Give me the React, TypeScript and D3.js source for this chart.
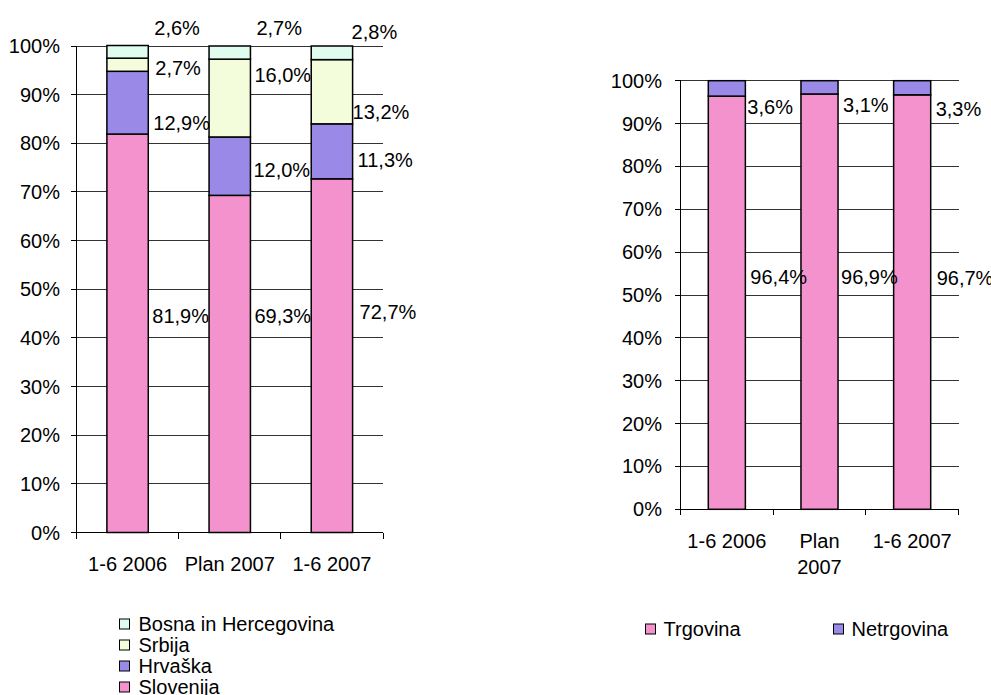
import React from "react";
import * as d3 from "d3";

// ---------- DATA ----------
const categories = ["1-6 2006", "Plan 2007", "1-6 2007"];
const leftSeries = ["Slovenija", "Hrvaška", "Srbija", "Bosna in Hercegovina"];
const slovenija = [81.9, 69.3, 72.7];
const hrvaska = [12.9, 12.0, 11.3];
const srbija = [2.7, 16.0, 13.2];
const bosna = [2.6, 2.7, 2.8];
const slovenijaLabels = ["81,9%", "69,3%", "72,7%"];
const hrvaskaLabels = ["12,9%", "12,0%", "11,3%"];
const srbijaLabels = ["2,7%", "16,0%", "13,2%"];
const bosnaLabels = ["2,6%", "2,7%", "2,8%"];

const rightSeries = ["Trgovina", "Netrgovina"];
const trgovina = [96.4, 96.9, 96.7];
const netrgovina = [3.6, 3.1, 3.3];
const trgovinaLabels = ["96,4%", "96,9%", "96,7%"];
const netrgovinaLabels = ["3,6%", "3,1%", "3,3%"];

const yTicks = [0, 10, 20, 30, 40, 50, 60, 70, 80, 90, 100];
const tickLabels = yTicks.map((t) => `${t}%`);

// ---------- LAYOUT (label anchors in value-space, offsets in px) ----------
const leftLabelAt = [
  [44.4, 44.4, 45.4],
  [84.1, 74.5, 76.6],
  [95.4, 94.0, 86.5],
  [103.6, 103.6, 102.9],
];
const leftLabelDx = [
  [4, 4, 7],
  [5, 3, 5],
  [7, 4, 0],
  [6, 6, -1],
];
const rightLabelAt = [
  [54.3, 54.3, 54.0],
  [93.9, 94.3, 93.3],
];
const rightLabelDx = [
  [5, 3, 6],
  [2, 5, 5],
];

const colors: Record<string, string> = {
  Slovenija: "#F492CD",
  "Hrvaška": "#9A89E7",
  Srbija: "#F3FDDC",
  "Bosna in Hercegovina": "#DFFCEF",
  Trgovina: "#F492CD",
  Netrgovina: "#9A89E7",
};

const FONT = "'Liberation Sans', Arial, Helvetica, sans-serif";
const FS = 20;

type ChartProps = {
  x0: number; x1: number; yTop: number; yBot: number;
  keys: string[]; values: number[][]; labels: string[][];
  labelAt: number[][]; labelDx: number[][];
  barRatio: number; wrapX?: boolean; tickLabelRight: number;
};

function StackChart(p: ChartProps) {
  const x = d3.scaleBand<string>().domain(categories).range([p.x0, p.x1]).padding(0);
  const y = d3.scaleLinear().domain([0, 100]).range([p.yBot, p.yTop]);
  const rows = categories.map((c, i) => {
    const r: any = { cat: c };
    p.keys.forEach((k, j) => (r[k] = p.values[j][i]));
    return r;
  });
  const stacked = d3.stack<any>().keys(p.keys)(rows);
  const bw = x.bandwidth() * p.barRatio;
  const bx = (c: string) => (x(c) as number) + (x.bandwidth() - bw) / 2;
  const xTickPos = [...categories.map((c) => x(c) as number), p.x1];
  return (
    <g>
      {yTicks.filter((t) => t > 0).map((t) => (
        <line key={"g" + t} x1={p.x0} x2={p.x1} y1={y(t)} y2={y(t)} stroke="#333" strokeWidth={1} shapeRendering="crispEdges" />
      ))}
      {yTicks.map((t, i) => (
        <g key={"t" + t}>
          <line x1={p.x0 - 6} x2={p.x0} y1={y(t)} y2={y(t)} stroke="#000" shapeRendering="crispEdges" />
          <text x={p.tickLabelRight} y={y(t)} dy="0.35em" textAnchor="end" fontSize={FS} fontFamily={FONT} fill="#000">{tickLabels[i]}</text>
        </g>
      ))}
      {stacked.map((s, j) => (
        <g key={s.key}>
          {s.map((d, i) => (
            <rect key={i} x={bx(categories[i])} width={bw} y={y(d[1])} height={y(d[0]) - y(d[1])}
              fill={colors[s.key]} stroke="#000" strokeWidth={1.5} />
          ))}
        </g>
      ))}
      <line x1={p.x0} x2={p.x0} y1={p.yTop} y2={p.yBot} stroke="#000" shapeRendering="crispEdges" />
      <line x1={p.x0} x2={p.x1} y1={p.yBot} y2={p.yBot} stroke="#000" shapeRendering="crispEdges" />
      {xTickPos.map((xp, i) => (
        <line key={"xt" + i} x1={xp} x2={xp} y1={p.yBot} y2={p.yBot + 6} stroke="#000" shapeRendering="crispEdges" />
      ))}
      {categories.map((c) => {
        const cx = (x(c) as number) + x.bandwidth() / 2;
        if (p.wrapX && c.startsWith("Plan")) {
          const parts = c.split(" ");
          return (
            <text key={c} x={cx} textAnchor="middle" fontSize={FS} fontFamily={FONT} fill="#000">
              <tspan x={cx} y={p.yBot + 32} dy="0.35em">{parts[0]}</tspan>
              <tspan x={cx} y={p.yBot + 58} dy="0.35em">{parts[1]}</tspan>
            </text>
          );
        }
        return (
          <text key={c} x={cx} y={p.yBot + (p.wrapX ? 32 : 31)} dy="0.35em" textAnchor="middle" fontSize={FS} fontFamily={FONT} fill="#000">{c}</text>
        );
      })}
      {p.keys.map((k, j) =>
        categories.map((c, i) => (
          <text key={k + i} x={bx(c) + bw + p.labelDx[j][i]} y={y(p.labelAt[j][i])} dy="0.35em"
            fontSize={FS} fontFamily={FONT} fill="#000">{p.labels[j][i]}</text>
        ))
      )}
    </g>
  );
}

export default function App() {
  const leftLegend = [...leftSeries].reverse();
  return (
    <svg width={991} height={695} style={{ position: "absolute", left: 0, top: 0, background: "#fff" }}>
      <rect width={991} height={695} fill="#fff" />
      <StackChart x0={76.5} x1={383} yTop={46} yBot={532.5}
        keys={leftSeries} values={[slovenija, hrvaska, srbija, bosna]}
        labels={[slovenijaLabels, hrvaskaLabels, srbijaLabels, bosnaLabels]}
        labelAt={leftLabelAt} labelDx={leftLabelDx} barRatio={0.405} tickLabelRight={60} />
      <StackChart x0={680.5} x1={958.5} yTop={80.7} yBot={509.3}
        keys={rightSeries} values={[trgovina, netrgovina]}
        labels={[trgovinaLabels, netrgovinaLabels]}
        labelAt={rightLabelAt} labelDx={rightLabelDx} barRatio={0.4} wrapX tickLabelRight={662} />
      {leftLegend.map((k, i) => (
        <g key={k} transform={`translate(119.5, ${624 + i * 21})`}>
          <rect x={0} y={-5} width={10} height={10} fill={colors[k]} stroke="#000" strokeWidth={1} />
          <text x={19} y={0} dy="0.35em" fontSize={FS} fontFamily={FONT} fill="#000">{k}</text>
        </g>
      ))}
      {rightSeries.map((k, i) => (
        <g key={k} transform={`translate(${i === 0 ? 645.5 : 833.5}, 629)`}>
          <rect x={0} y={-5} width={10} height={10} fill={colors[k]} stroke="#000" strokeWidth={1} />
          <text x={18} y={0} dy="0.35em" fontSize={FS} fontFamily={FONT} fill="#000">{k}</text>
        </g>
      ))}
    </svg>
  );
}
